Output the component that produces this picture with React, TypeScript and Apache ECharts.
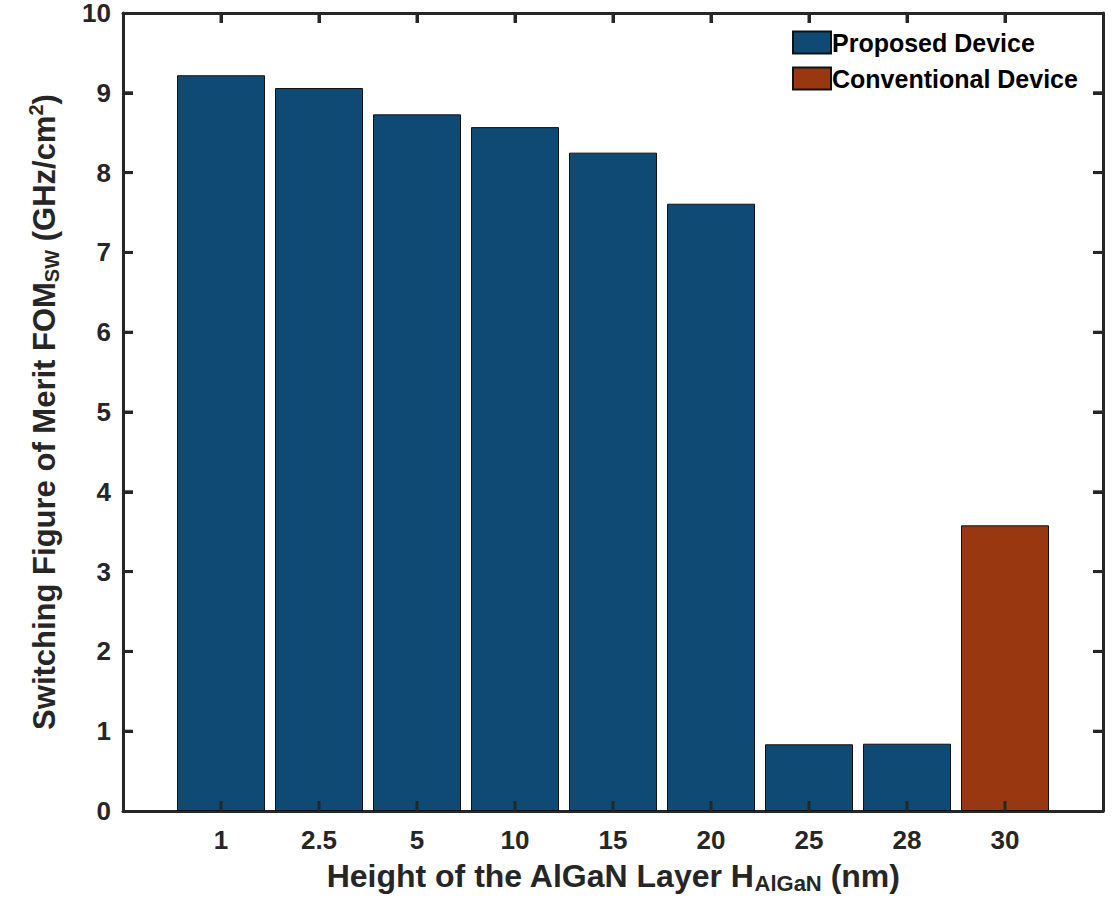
import React, { useEffect, useRef } from "react";
import * as echarts from "echarts";

const categories = ["1", "2.5", "5", "10", "15", "20", "25", "28", "30"];
const proposedValues = [9.22, 9.06, 8.73, 8.57, 8.25, 7.61, 0.836, 0.843];
const conventionalValues = [3.58];
const yTicks = [0, 1, 2, 3, 4, 5, 6, 7, 8, 9, 10];
const xTicks = [0, 1, 2, 3, 4, 5, 6, 7, 8, 9, 10];

const FONT = "Liberation Sans, Arial, sans-serif";
const AXIS_COLOR = "#262626";
const W = 1115;
const H = 910;
const X_MIN = xTicks[0];
const X_MAX = xTicks[xTicks.length - 1];
const Y_MIN = yTicks[0];
const Y_MAX = yTicks[yTicks.length - 1];
const TICK_LEN = 10;
const TICK_W = 3;

function frameLine() {
  return { show: true, onZero: false, lineStyle: { color: AXIS_COLOR, width: 3 } };
}
function innerTick() {
  return { show: true, inside: true, length: TICK_LEN, lineStyle: { color: AXIS_COLOR, width: 3 } };
}

export default function App() {
  const ref = useRef<HTMLDivElement>(null);
  useEffect(() => {
    document.body.style.margin = "0";
    if (!ref.current) return;
    const chart = echarts.init(ref.current, null, { renderer: "svg" });
    const proposedData = proposedValues.map((v, i) => [i + 1, v]);
    const conventionalData = conventionalValues.map((v, i) => [proposedValues.length + i + 1, v]);
    const tickFill = () => ({ fill: AXIS_COLOR });
    chart.setOption({
      animation: false,
      grid: { left: 123, right: 12, top: 13, bottom: 99, containLabel: false, outerBoundsMode: "none" },
      legend: {
        orient: "vertical",
        left: 792,
        top: 30,
        padding: 0,
        itemWidth: 38,
        itemHeight: 22,
        itemGap: 11,
        icon: "rect",
        textStyle: { fontFamily: FONT, fontWeight: "bold", fontSize: 25, color: "#000", padding: [0, 0, 0, -4] },
        data: ["Proposed Device", "Conventional Device"],
      },
      xAxis: [
        {
          type: "value",
          min: X_MIN,
          max: X_MAX,
          interval: 1,
          axisLine: frameLine(),
          axisTick: innerTick(),
          splitLine: { show: false },
          axisLabel: {
            fontFamily: FONT,
            fontWeight: "bold",
            fontSize: 26,
            color: AXIS_COLOR,
            margin: 16,
            formatter: (v: number) => (v >= 1 && v <= categories.length ? categories[v - 1] : ""),
          },
          name: "{a|Height of the AlGaN Layer H}{sub|AlGaN}{a| (nm)}",
          nameLocation: "middle",
          nameGap: 47,
          nameMoveOverlap: false,
          nameTextStyle: {
            rich: {
              a: { fontFamily: FONT, fontWeight: "bold", fontSize: 32, color: AXIS_COLOR, lineHeight: 36, verticalAlign: "middle" },
              sub: { fontFamily: FONT, fontWeight: "bold", fontSize: 22, color: AXIS_COLOR, lineHeight: 36, verticalAlign: "bottom" },
            },
          },
        },
        {
          type: "value",
          position: "top",
          min: X_MIN,
          max: X_MAX,
          interval: 1,
          axisLine: frameLine(),
          axisTick: innerTick(),
          splitLine: { show: false },
          axisLabel: { show: false },
        },
      ],
      yAxis: [
        {
          type: "value",
          min: Y_MIN,
          max: Y_MAX,
          interval: 1,
          axisLine: frameLine(),
          axisTick: innerTick(),
          splitLine: { show: false },
          axisLabel: { fontFamily: FONT, fontWeight: "bold", fontSize: 26, color: AXIS_COLOR, margin: 12 },
          name: "{a|Switching Figure of Merit FOM}{sub|SW}{a| (GHz/cm}{sup|2}{a|)}",
          nameLocation: "middle",
          nameRotate: 90,
          nameGap: 61,
          nameMoveOverlap: false,
          nameTextStyle: {
            rich: {
              a: { fontFamily: FONT, fontWeight: "bold", fontSize: 31, color: AXIS_COLOR, lineHeight: 36, verticalAlign: "middle" },
              sub: { fontFamily: FONT, fontWeight: "bold", fontSize: 20, color: AXIS_COLOR, lineHeight: 36, verticalAlign: "bottom" },
              sup: { fontFamily: FONT, fontWeight: "bold", fontSize: 20, color: AXIS_COLOR, lineHeight: 36, verticalAlign: "top" },
            },
          },
        },
        {
          type: "value",
          position: "right",
          min: Y_MIN,
          max: Y_MAX,
          interval: 1,
          axisLine: frameLine(),
          axisTick: innerTick(),
          splitLine: { show: false },
          axisLabel: { show: false },
        },
      ],
      series: [
        {
          name: "Proposed Device",
          type: "bar",
          data: proposedData,
          barWidth: 88,
          barGap: "-100%",
          itemStyle: { color: "#0E4A73", borderColor: "#111", borderWidth: 1 },
        },
        {
          name: "Conventional Device",
          type: "bar",
          data: conventionalData,
          barWidth: 88,
          barGap: "-100%",
          itemStyle: { color: "#993810", borderColor: "#111", borderWidth: 1 },
        },
        {
          name: "xticks",
          type: "custom",
          z: 10,
          clip: false,
          silent: true,
          data: xTicks.slice(1, -1).map((v) => [v, Y_MIN]),
          renderItem: (_p: any, api: any) => {
            const b = api.coord([api.value(0), Y_MIN]);
            const t = api.coord([api.value(0), Y_MAX]);
            return {
              type: "group",
              children: [
                { type: "rect", shape: { x: b[0] - TICK_W / 2, y: b[1] - TICK_LEN, width: TICK_W, height: TICK_LEN }, style: tickFill() },
                { type: "rect", shape: { x: t[0] - TICK_W / 2, y: t[1], width: TICK_W, height: TICK_LEN }, style: tickFill() },
              ],
            };
          },
        },
        {
          name: "yticks",
          type: "custom",
          z: 10,
          clip: false,
          silent: true,
          data: yTicks.slice(1, -1).map((v) => [X_MIN, v]),
          renderItem: (_p: any, api: any) => {
            const l = api.coord([X_MIN, api.value(1)]);
            const r = api.coord([X_MAX, api.value(1)]);
            return {
              type: "group",
              children: [
                { type: "rect", shape: { x: l[0], y: l[1] - TICK_W / 2, width: TICK_LEN, height: TICK_W }, style: tickFill() },
                { type: "rect", shape: { x: r[0] - TICK_LEN, y: r[1] - TICK_W / 2, width: TICK_LEN, height: TICK_W }, style: tickFill() },
              ],
            };
          },
        },
      ],
    });
    return () => chart.dispose();
  }, []);
  return <div ref={ref} style={{ width: W, height: H }} />;
}
